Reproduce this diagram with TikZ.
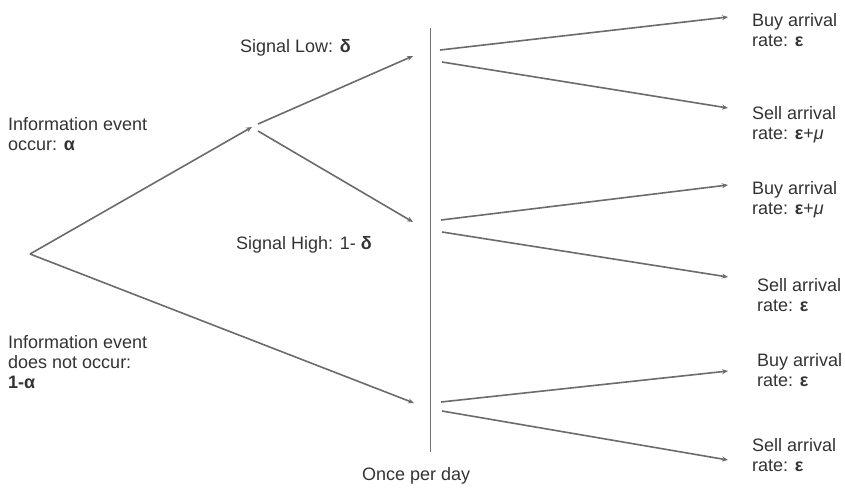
\documentclass[tikz,border=0pt]{standalone}
\usepackage{fontspec}
\setmainfont{Liberation Sans}
\usetikzlibrary{arrows.meta}
\begin{document}
\begin{tikzpicture}[x=1pt,y=-1pt,
  lbl/.style={anchor=west,align=left,inner sep=0pt,text=black!80,
    font=\fontsize{18}{20}\selectfont},
  branch/.style={draw=black!58,line width=1.6pt,-{Stealth[length=6pt,width=5pt]}},
  dayline/.style={draw=black!55,line width=0.9pt}]
\useasboundingbox (0,0) rectangle (845,491);
% coordinates
\coordinate (root) at (30,254);
\coordinate (info) at (252,127);
\coordinate (infoA) at (258,124);
\coordinate (infoB) at (258,131);
\coordinate (low) at (413,56);
\coordinate (high) at (413,222);
\coordinate (none) at (414,403);
\coordinate (dtop) at (430,28);
\coordinate (dbot) at (430,452);
\coordinate (lowA) at (440,50);
\coordinate (lowB) at (442,62);
\coordinate (highA) at (441,220);
\coordinate (highB) at (442,232);
\coordinate (noneA) at (441,402);
\coordinate (noneB) at (442,411);
\coordinate (r1) at (728,17);
\coordinate (r2) at (728,108);
\coordinate (r3) at (728,185);
\coordinate (r4) at (728,277);
\coordinate (r5) at (728,371);
\coordinate (r6) at (728,460);
% connectors
\draw[branch] (root) -- (info);
\draw[branch] (infoA) -- (low);
\draw[branch] (infoB) -- (high);
\draw[branch] (root) -- (none);
\draw[dayline] (dtop) -- (dbot);
\draw[branch] (lowA) -- (r1);
\draw[branch] (lowB) -- (r2);
\draw[branch] (highA) -- (r3);
\draw[branch] (highB) -- (r4);
\draw[branch] (noneA) -- (r5);
\draw[branch] (noneB) -- (r6);
% labels
\node[lbl] (tinfo) at (8,134) {Information event\\occur: \textbf{α}};
\node[lbl] (tnone) at (8,362) {Information event\\does not occur:\\\textbf{1-α}};
\node[lbl] (tlow) at (240,48) {Signal Low: \textbf{δ}};
\node[lbl] (thigh) at (236,245) {Signal High: 1- \textbf{δ}};
\node[lbl] (tday) at (362,476) {Once per day};
\node[lbl] (t1) at (752,30) {Buy arrival\\rate: \textbf{ε}};
\node[lbl] (t2) at (752,125) {Sell arrival\\rate: \textbf{ε}+\textit{μ}};
\node[lbl] (t3) at (752,200) {Buy arrival\\rate: \textbf{ε}+\textit{μ}};
\node[lbl] (t4) at (757,295) {Sell arrival\\rate: \textbf{ε}};
\node[lbl] (t5) at (757,370) {Buy arrival\\rate: \textbf{ε}};
\node[lbl] (t6) at (752,455) {Sell arrival\\rate: \textbf{ε}};
\end{tikzpicture}
\end{document}
